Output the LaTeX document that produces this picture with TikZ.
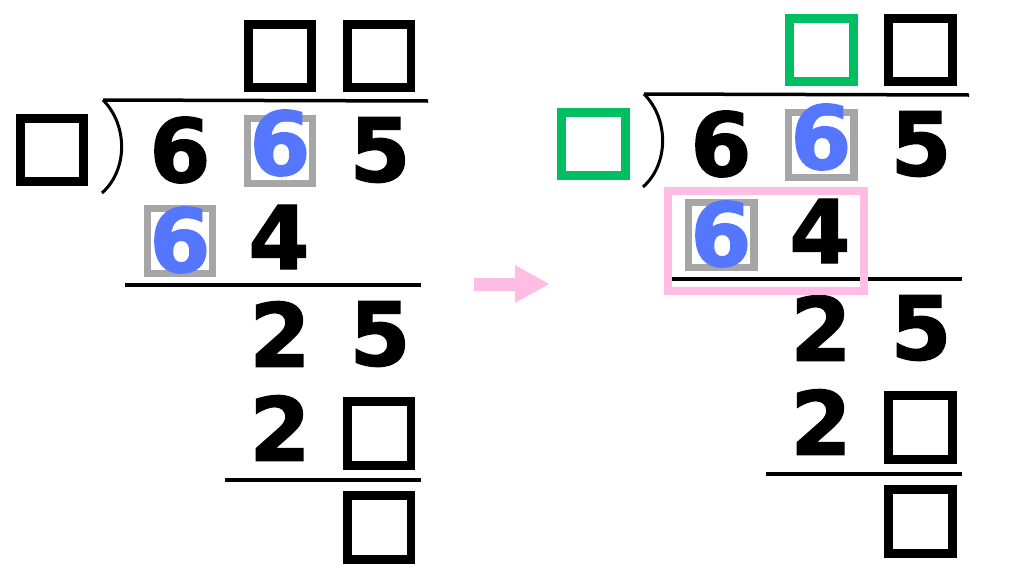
\documentclass[tikz,border=0pt]{standalone}
\usepackage{fontspec}
\newfontfamily\digitfont{DejaVu Sans}[BoldFeatures={FakeBold=1.6}]
\usepackage{tikz}
\usetikzlibrary{positioning}
\definecolor{myblue}{RGB}{85,119,255}
\definecolor{mygray}{RGB}{166,166,166}
\definecolor{mygreen}{RGB}{0,191,99}
\definecolor{mypink}{RGB}{255,189,230}

\tikzset{
  digit/.style={font=\digitfont\bfseries\fontsize{50}{50}\selectfont, inner sep=0pt},
  bluedigit/.style={digit, text=myblue},
  blank/.style={draw, line width=0.18cm, minimum size=1.28cm, inner sep=0pt},
  graybox/.style={draw=mygray, line width=0.15cm, minimum size=1.31cm, inner sep=0pt},
  pinkbox/.style={draw=mypink, line width=0.16cm, minimum width=3.92cm, minimum height=2cm, inner sep=0pt},
  rule/.style={line width=0.07cm},
}

% one long division, #1 = colour of the boxes to fill in first
\newcommand{\longdiv}[1]{%
  % quotient
  \node[blank, draw=#1] (q1) at (280,56) {};
  \node[blank] (q2) at (379,56) {};
  % divisor and bracket
  \node[blank, draw=#1] (dv) at (52,150) {};
  \coordinate (vl) at (103,100);
  \coordinate (vr) at (428,101);
  \coordinate (vb) at (102,193);
  \draw[rule] (vl) -- (vr);
  \draw[line width=0.06cm] (vl) .. controls (128,125) and (128,170) .. (vb);
  % dividend
  \node[digit] (a1) at (180,150) {6};
  \node[graybox] (g1) at (280,151) {};
  \node[bluedigit] (a2) at (280,143) {6};
  \node[digit] (a3) at (380,150) {5};
  % first product
  \node[graybox] (g2) at (180,241) {};
  \node[bluedigit] (b1) at (180,240) {6};
  \node[digit] (b2) at (279,237) {4};
  \coordinate (l1l) at (125,285);
  \coordinate (l1r) at (421,285);
  \draw[rule] (l1l) -- (l1r);
  % remainder
  \node[digit] (c1) at (280,334) {2};
  \node[digit] (c2) at (380,334) {5};
  \node[digit] (d1) at (280,428) {2};
  \node[blank] (d2) at (379,433) {};
  \coordinate (l2l) at (225,480);
  \coordinate (l2r) at (421,480);
  \draw[rule] (l2l) -- (l2r);
  \node[blank] (e1) at (379,527) {};
}

\begin{document}
\begin{tikzpicture}[x=0.02cm, y=-0.02cm]
  \useasboundingbox (0,0) rectangle (1024,585);

  \begin{scope}[name prefix=L-]
    \longdiv{black}
  \end{scope}

  % arrow between the two steps
  \fill[mypink] (474,278) -- (515,278) -- (515,265) -- (549,284)
    -- (515,303) -- (515,291) -- (474,291) -- cycle;

  \begin{scope}[shift={(541,-6)}, name prefix=R-]
    \longdiv{mygreen}
    \node[pinkbox] (pk) at (225,247) {};
  \end{scope}
\end{tikzpicture}
\end{document}
